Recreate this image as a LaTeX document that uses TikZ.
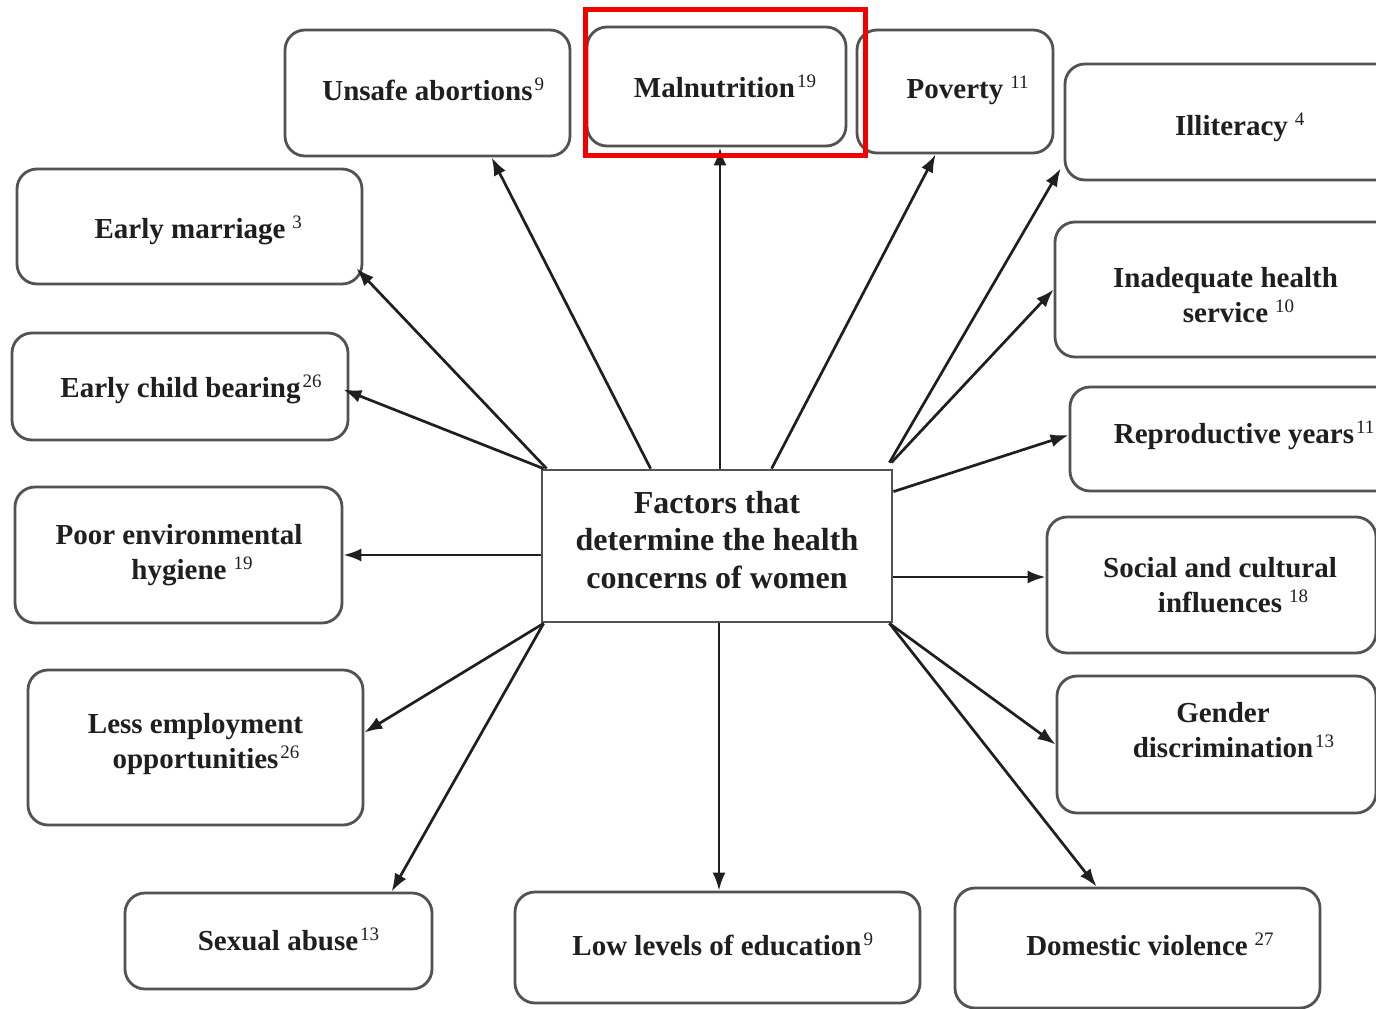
\documentclass[tikz,border=0pt]{standalone}
\usepackage{fontspec}
\setmainfont{Liberation Serif}
\usetikzlibrary{arrows.meta}
\newcommand\sps[1]{\rlap{\kern2pt\raisebox{10pt}{\fontsize{19}{19}\selectfont\mdseries #1}}}
\newcommand\spw[1]{\rlap{\kern7pt\raisebox{10pt}{\fontsize{19}{19}\selectfont\mdseries #1}}}
\newcommand\ml[1]{\begin{tabular}[t]{@{}c@{}}#1\end{tabular}}
\begin{document}
\begin{tikzpicture}[x=1pt,y=-1pt,
  box/.style={draw=black!68, line width=2.8pt, rounded corners=20pt, fill=white, inner sep=0pt},
  cbox/.style={draw=black!68, line width=2.8pt, fill=white, inner sep=0pt},
  txt/.style={font=\fontsize{29}{35}\selectfont\bfseries, text=black!88, inner sep=0pt, anchor=base},
  ctxt/.style={font=\fontsize{32}{37.5}\selectfont\bfseries, text=black!88, inner sep=0pt, anchor=base},
  arr/.style={line width=2.7pt, draw=black!88, -{Latex[length=18pt,width=13pt]}},
  hl/.style={draw=red!95!black, line width=5pt},
]
\useasboundingbox (0,0) rectangle (1376,1009);
\fill[white] (0,0) rectangle (1376,1009);

% boxes
\node[box, minimum width=285pt, minimum height=126pt] (ua) at (427.5,93) {};
\node[box, minimum width=259pt, minimum height=119pt] (mal) at (716.5,86.5) {};
\node[box, minimum width=196pt, minimum height=123pt] (pov) at (955,91.5) {};
\node[box, minimum width=333pt, minimum height=116pt] (il) at (1231.5,122) {};
\node[box, minimum width=345pt, minimum height=115pt] (em) at (189.5,226.5) {};
\node[box, minimum width=336pt, minimum height=107pt] (ecb) at (180,386.5) {};
\node[box, minimum width=327pt, minimum height=136pt] (pe) at (178.5,555) {};
\node[box, minimum width=335pt, minimum height=155pt] (le) at (195.5,747.5) {};
\node[box, minimum width=307pt, minimum height=96pt] (sa) at (278.5,941) {};
\node[box, minimum width=405pt, minimum height=111pt] (ll) at (717.5,947.5) {};
\node[box, minimum width=365pt, minimum height=120pt] (dv) at (1137.5,948) {};
\node[box, minimum width=319pt, minimum height=137pt] (gd) at (1216.5,744.5) {};
\node[box, minimum width=329pt, minimum height=136pt] (so) at (1211.5,585) {};
\node[box, minimum width=328pt, minimum height=104pt] (rp) at (1234,439) {};
\node[box, minimum width=341pt, minimum height=135pt] (ih) at (1225.5,289.5) {};
\node[cbox, minimum width=350pt, minimum height=152pt] (c) at (717,546) {};

% texts
\node[txt] (ua-t) at (427.5,100) {Unsafe abortions\sps{9}};
\node[txt] (mal-t) at (714.5,97) {Malnutrition\sps{19}};
\node[txt] (pov-t) at (955,98) {Poverty\spw{11}};
\node[txt] (il-t) at (1231.5,135) {Illiteracy\spw{4}};
\node[txt] (em-t) at (190,238) {Early marriage\spw{3}};
\node[txt] (ecb-t) at (180.5,397) {Early child bearing\sps{26}};
\node[txt] (pe-t) at (179,544) {\ml{Poor environmental\\hygiene\spw{19}}};
\node[txt] (le-t) at (195.5,733) {\ml{Less employment\\opportunities\sps{26}}};
\node[txt] (sa-t) at (278,950) {Sexual abuse\sps{13}};
\node[txt] (ll-t) at (717,955) {Low levels of education\sps{9}};
\node[txt] (dv-t) at (1137,955) {Domestic violence\spw{27}};
\node[txt] (gd-t) at (1223,722) {\ml{Gender\\discrimination\sps{13}}};
\node[txt] (so-t) at (1220,577) {\ml{Social and cultural\\influences\spw{18}}};
\node[txt] (rp-t) at (1234,443) {Reproductive years\sps{11}};
\node[txt] (ih-t) at (1225.5,287) {\ml{Inadequate health\\service\spw{10}}};
\node[ctxt] (c-t) at (717,513) {\ml{Factors that\\determine the health\\concerns of women}};

% connectors
\draw[arr] ([xshift=110pt]c.north west) -- ([xshift=208pt]ua.south west);
\draw[arr] ([xshift=3pt]c.north) -- ([xshift=3.5pt]mal.south);
\draw[arr] ([xshift=231pt]c.north west) -- ([xshift=80pt]pov.south west);
\draw[arr] ([xshift=-4pt,yshift=6pt]c.north east) -- ([xshift=-3pt,yshift=13pt]il.south west);
\draw[arr] ([xshift=-2pt,yshift=6pt]c.north east) -- (ih.west);
\draw[arr] ([yshift=-23pt]c.north east) -- ([yshift=4pt]rp.west);
\draw[arr] ([yshift=-31pt]c.east) -- ([yshift=8pt]so.west);
\draw[arr] ([xshift=-4pt]c.south east) -- (gd.west);
\draw[arr] ([xshift=-4pt]c.south east) -- ([xshift=143pt]dv.north west);
\draw[arr] ([xshift=2pt]c.south) -- ([xshift=1.5pt]ll.north);
\draw[arr] ([xshift=3pt]c.south west) -- ([xshift=268pt]sa.north west);
\draw[arr] ([xshift=3pt]c.south west) -- ([yshift=15pt]le.east);
\draw[arr] (c.west |- pe.east) -- (pe.east);
\draw[arr] ([xshift=3pt]c.north west) -- ([xshift=-6pt,yshift=-3pt]ecb.east);
\draw[arr] ([xshift=6pt]c.north west) -- ([xshift=-7pt,yshift=17pt]em.south east);

% highlight
\draw[hl] (585,9) rectangle (865.5,155.5);
\end{tikzpicture}
\end{document}
